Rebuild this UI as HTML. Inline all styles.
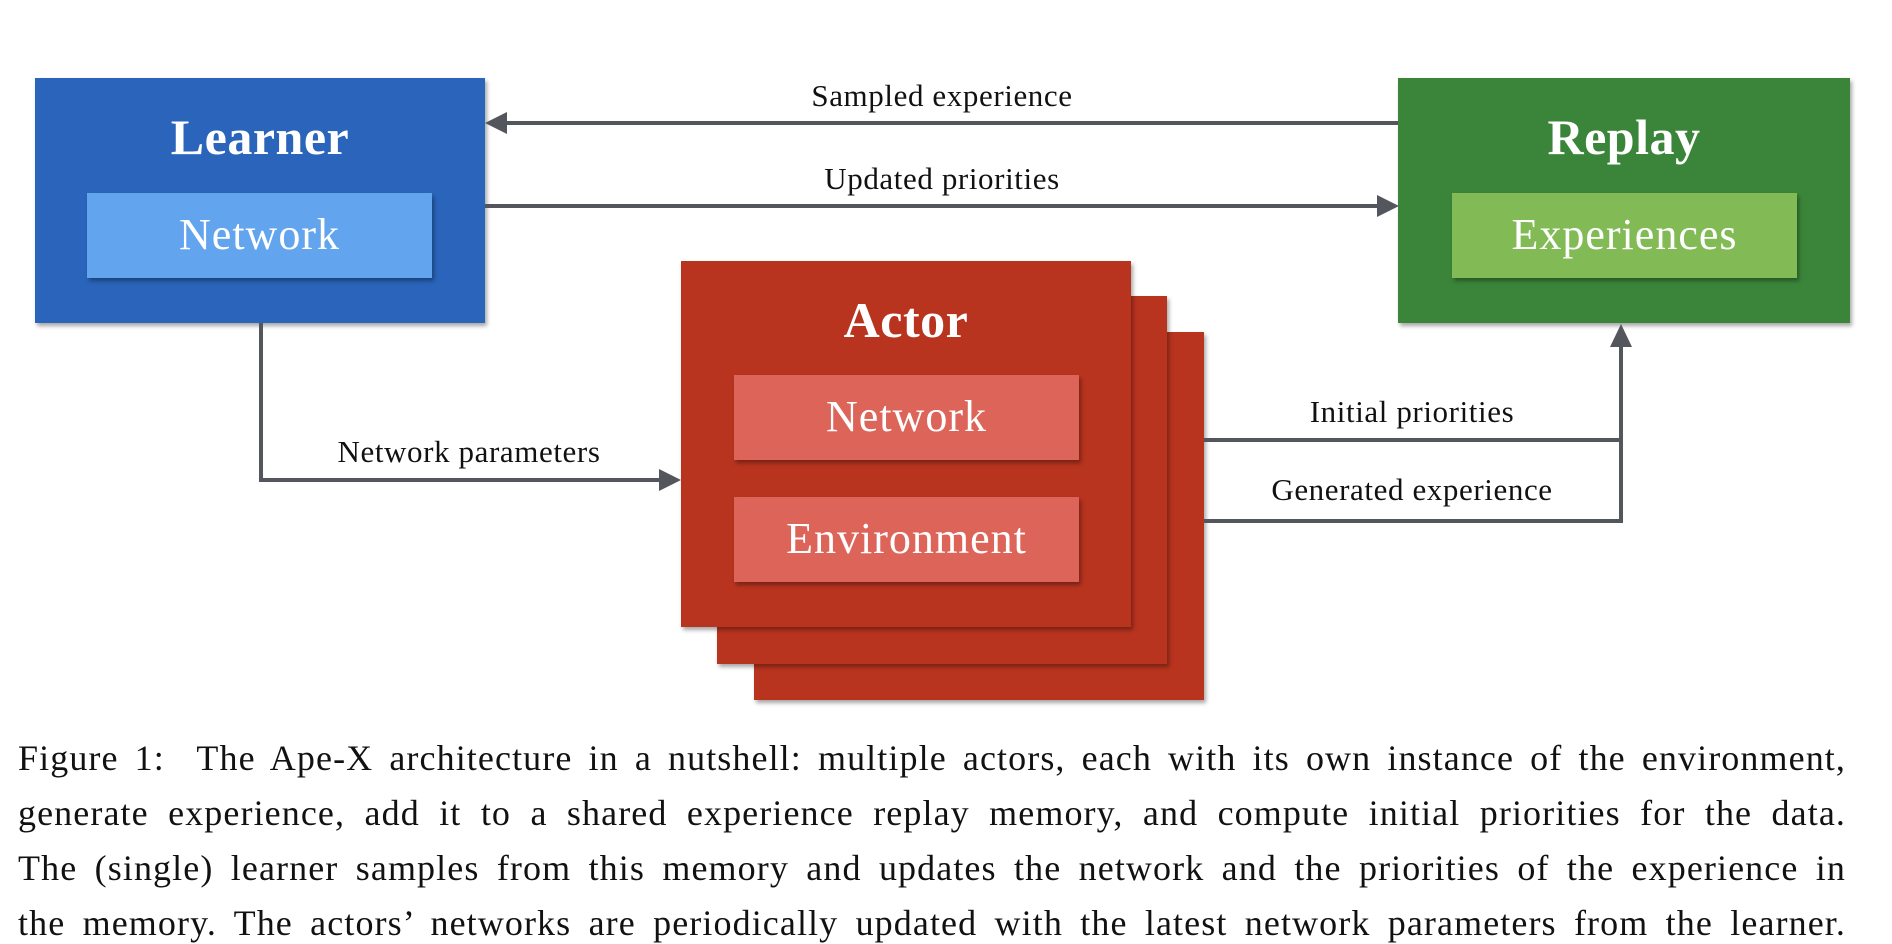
<!DOCTYPE html>
<html><head><meta charset="utf-8"><style>
body{margin:0;width:1892px;height:944px;background:#fff;position:relative;overflow:hidden;font-family:"Liberation Serif",serif}
.b{position:absolute;box-shadow:2px 3px 4px rgba(0,0,0,0.35)}
.t{position:absolute;color:#fff;text-align:center;width:100%;white-space:nowrap}
.lbl{position:absolute;font-size:31px;letter-spacing:0.6px;color:#111;transform:translateX(-50%);white-space:nowrap}
.cap{position:absolute;left:18px;width:1828px;font-size:36px;color:#111;text-align:justify;text-align-last:justify;white-space:nowrap;letter-spacing:1.1px}
.h{font-size:50px;font-weight:bold;letter-spacing:0.5px}
.n{font-size:44px;letter-spacing:1px}
</style></head><body>
<div class="b" style="left:35px;top:78px;width:450px;height:245px;background:#2a65bb">
 <div class="t h" style="top:30px">Learner</div>
</div>
<div class="b" style="left:87px;top:193px;width:345px;height:85px;background:#63a4ee"><div class="t n" style="top:16px">Network</div></div>
<div class="b" style="left:1398px;top:78px;width:452px;height:245px;background:#3b853a">
 <div class="t h" style="top:30px">Replay</div>
</div>
<div class="b" style="left:1452px;top:193px;width:345px;height:85px;background:#82ba56"><div class="t n" style="top:16px">Experiences</div></div>
<div class="b" style="left:754px;top:332px;width:450px;height:368px;background:#b8341f"></div>
<div class="b" style="left:717px;top:296px;width:450px;height:368px;background:#b8341f"></div>
<div class="b" style="left:681px;top:261px;width:450px;height:366px;background:#b8341f">
 <div class="t h" style="top:30px">Actor</div>
</div>
<div class="b" style="left:734px;top:375px;width:345px;height:85px;background:#dc6459"><div class="t n" style="top:16px">Network</div></div>
<div class="b" style="left:734px;top:497px;width:345px;height:85px;background:#dc6459"><div class="t n" style="top:16px">Environment</div></div>
<svg width="1892" height="944" style="position:absolute;left:0;top:0" fill="none" stroke="#53565c" stroke-width="4">
 <line x1="1398" y1="123" x2="500" y2="123"/><polygon points="485,123 507,112 507,134" fill="#53565c" stroke="none"/>
 <line x1="485" y1="206" x2="1384" y2="206"/><polygon points="1399,206 1377,195 1377,217" fill="#53565c" stroke="none"/>
 <polyline points="261,323 261,480 666,480"/><polygon points="681,480 659,469 659,491" fill="#53565c" stroke="none"/>
 <line x1="1204" y1="440" x2="1621" y2="440"/>
 <polyline points="1204,521 1621,521 1621,338"/><polygon points="1621,324 1610,347 1632,347" fill="#53565c" stroke="none"/>
</svg>
<div class="lbl" style="left:942px;top:78px">Sampled experience</div>
<div class="lbl" style="left:942px;top:161px">Updated priorities</div>
<div class="lbl" style="left:469px;top:434px">Network parameters</div>
<div class="lbl" style="left:1412px;top:394px">Initial priorities</div>
<div class="lbl" style="left:1412px;top:472px">Generated experience</div>
<div class="cap" style="top:737px">Figure 1:&nbsp; The Ape-X architecture in a nutshell: multiple actors, each with its own instance of the environment,</div>
<div class="cap" style="top:792px">generate experience, add it to a shared experience replay memory, and compute initial priorities for the data.</div>
<div class="cap" style="top:847px">The (single) learner samples from this memory and updates the network and the priorities of the experience in</div>
<div class="cap" style="top:902px">the memory. The actors’ networks are periodically updated with the latest network parameters from the learner.</div>
</body></html>
